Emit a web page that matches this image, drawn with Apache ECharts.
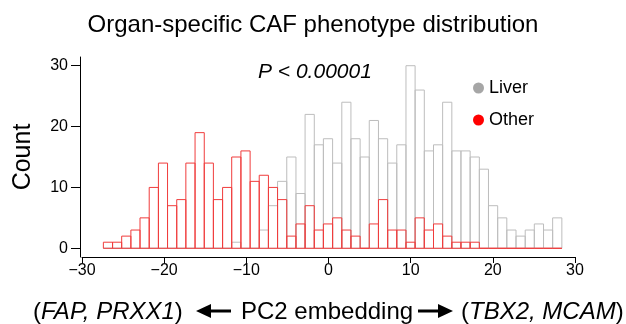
<!DOCTYPE html>
<html>
<head>
<meta charset="utf-8">
<script src="https://cdn.jsdelivr.net/npm/echarts@6/dist/echarts.min.js"></script>
<style>html,body{margin:0;padding:0;background:#fff}#c{width:626px;height:324px}</style>
</head>
<body>
<div id="c"></div>
<script>
const binEdges = [-27.40,-26.28,-25.17,-24.05,-22.94,-21.82,-20.70,-19.59,-18.47,-17.36,-16.24,-15.12,-14.01,-12.89,-11.78,-10.66,-9.54,-8.43,-7.31,-6.20,-5.08,-3.96,-2.85,-1.73,-0.62,0.50,1.62,2.73,3.85,4.96,6.08,7.20,8.31,9.43,10.54,11.66,12.78,13.89,15.01,16.12,17.24,18.36,19.47,20.59,21.70,22.82,23.94,25.05,26.17,27.28,28.40];
const liverCounts = [0,0,0,0,0,0,0,0,0,0,0,0,0,0,1,0,0,3,7,11,15,9,22,17,18,14,24,18,15,21,18,14,17,30,26,16,17,24,16,16,15,13,7,5,3,2,3,4,3,5];
const otherCounts = [1,1,2,3,5,10,14,7,8,14,19,14,8,10,15,16,11,12,10,8,2,4,7,3,4,5,3,2,0,4,8,3,3,1,5,3,4,2,1,1,1,0,0,0,0,0,0,0,0,0];
const yTicks = [0,10,20,30];
const xTicks = [-30,-20,-10,0,10,20,30];
const seriesNames = ['Liver','Other'];
const seriesColors = ['#bdbdbd','#f03c3c'];
const legendColors = ['#a6a6a6','#ff0000'];

function toData(counts){
  return counts.map((c,i)=>[binEdges[i], binEdges[i+1], c]);
}
function makeRender(color){
  return function(params, api){
    const x0 = api.value(0), x1 = api.value(1), c = api.value(2);
    const p0 = api.coord([x0, 0]);
    const p1 = api.coord([x1, c]);
    return {
      type:'rect',
      shape:{x:p0[0], y:p1[1], width:p1[0]-p0[0], height:p0[1]-p1[1]},
      style:{fill:null, stroke:color, lineWidth:1}
    };
  };
}
const font = 'Liberation Sans, Arial, sans-serif';
const chart = echarts.init(document.getElementById('c'), null, {renderer:'canvas'});
const arrowY = 311;
chart.setOption({
  animation:false,
  backgroundColor:'#fff',
  title:{text:'Organ-specific CAF phenotype distribution', left:'center', top:8,
    textStyle:{fontFamily:font, fontSize:24, fontWeight:'normal', color:'#000'}},
  legend:{orient:'vertical', left:468, top:74, itemGap:14, itemWidth:11, itemHeight:11,
    icon:'circle', textStyle:{fontFamily:font, fontSize:18, color:'#000'},
    data:seriesNames.map((n,i)=>({name:n, itemStyle:{color:legendColors[i]}}))},
  grid:{left:82, top:57, width:493, height:200},
  xAxis:{type:'value', min:-30, max:30,
    axisLine:{show:true, onZero:false, lineStyle:{color:'#000', width:1}},
    axisTick:{show:true, length:6, customValues:xTicks, lineStyle:{color:'#000'}},
    axisLabel:{customValues:xTicks, fontFamily:font, fontSize:16, color:'#000', margin:6,
      formatter:v=>String(v).replace('-','\u2212')},
    splitLine:{show:false}},
  yAxis:{type:'value', min:-1.43, max:31.43, offset:2,
    name:'Count', nameLocation:'middle', nameGap:44, nameRotate:90,
    nameTextStyle:{fontFamily:font, fontSize:25, color:'#000'},
    axisLine:{show:true, onZero:false, lineStyle:{color:'#000', width:1}},
    axisTick:{show:true, length:9, customValues:yTicks, lineStyle:{color:'#000'}},
    axisLabel:{customValues:yTicks, fontFamily:font, fontSize:16, color:'#000', margin:12},
    splitLine:{show:false}},
  series:[
    {name:seriesNames[0], type:'custom', renderItem:makeRender(seriesColors[0]), data:toData(liverCounts),
      itemStyle:{color:legendColors[0]}, encode:{x:[0,1], y:2}},
    {name:seriesNames[1], type:'custom', renderItem:makeRender(seriesColors[1]), data:toData(otherCounts),
      itemStyle:{color:legendColors[1]}, encode:{x:[0,1], y:2}}
  ],
  graphic:[
    {type:'text', left:258, top:62, style:{text:'P < 0.00001', font:'italic 21px '+font, fill:'#000'}},
    {type:'text', left:33, top:300, style:{
      text:'({i|FAP, PRXX1})', font:'24px '+font, fill:'#000',
      rich:{i:{fontStyle:'italic', fontSize:24, fontFamily:font}}}},
    {type:'text', left:241, top:300, style:{text:'PC2 embedding', font:'24px '+font, fill:'#000'}},
    {type:'text', left:461, top:300, style:{
      text:'({i|TBX2, MCAM})', font:'24px '+font, fill:'#000',
      rich:{i:{fontStyle:'italic', fontSize:24, fontFamily:font}}}},
    {type:'line', shape:{x1:205, y1:arrowY, x2:231, y2:arrowY}, style:{stroke:'#000', lineWidth:3}},
    {type:'polygon', shape:{points:[[196,arrowY],[211,arrowY-7],[211,arrowY+7]]}, style:{fill:'#000'}},
    {type:'line', shape:{x1:418, y1:arrowY, x2:444, y2:arrowY}, style:{stroke:'#000', lineWidth:3}},
    {type:'polygon', shape:{points:[[453,arrowY],[438,arrowY-7],[438,arrowY+7]]}, style:{fill:'#000'}}
  ]
});
</script>
</body>
</html>
